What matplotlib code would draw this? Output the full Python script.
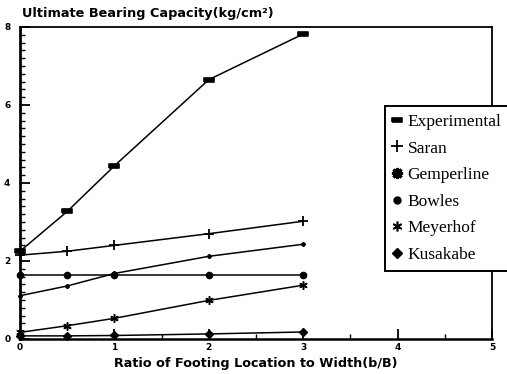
import numpy as np
import matplotlib
matplotlib.use("Agg")
import matplotlib.pyplot as plt
from matplotlib.lines import Line2D
from matplotlib.ticker import MultipleLocator

# ratio b/B
x_vals = [0, 0.5, 1, 2, 3]

experimental = [2.25, 3.27, 4.44, 6.65, 7.82]
saran = [2.15, 2.25, 2.40, 2.70, 3.02]
gemperline = [1.11, 1.36, 1.68, 2.12, 2.43]
bowles = [1.65, 1.65, 1.65, 1.65, 1.65]
meyerhof = [0.17, 0.34, 0.53, 0.99, 1.38]
kusakabe = [0.08, 0.08, 0.09, 0.13, 0.18]

series_names = ["Experimental", "Saran", "Gemperline", "Bowles", "Meyerhof", "Kusakabe"]
series_vals = [experimental, saran, gemperline, bowles, meyerhof, kusakabe]

x_ticks = [0, 1, 2, 3, 4, 5]
y_ticks = [0, 2, 4, 6, 8]

# flat bar marker for the experimental points
bar_marker = [(-1, -0.45), (1, -0.45), (1, 0.45), (-1, 0.45), (-1, -0.45)]
markers = [bar_marker, "+", (8, 2, 0), "o", (6, 2, 0), "D"]
msizes = [7, 7, 3, 4.5, 6, 4.5]
mews = [1.2, 1.3, 1.0, 1.0, 1.1, 1.0]
leg_sizes = [7, 8, 8, 5, 7, 5]
leg_mews = [1.2, 1.3, 2.2, 1.0, 1.2, 1.0]

fig = plt.figure(figsize=(5.07, 3.74), dpi=100)
ax = fig.add_axes([20 / 507, 35 / 374, 472 / 507, 312 / 374])

for vals, mk, ms, mw in zip(series_vals, markers, msizes, mews):
    ax.plot(x_vals, vals, color="black", lw=1.1, marker=mk, ms=ms,
            mew=mw, mfc="black", mec="black", clip_on=False)

ax.set_xlim(0, 5)
ax.set_ylim(0, 8)
ax.set_xticks(x_ticks)
ax.set_yticks(y_ticks)
ax.xaxis.set_minor_locator(MultipleLocator(0.5))
ax.yaxis.set_minor_locator(MultipleLocator(0.2))
ax.tick_params(which="major", direction="in", length=7, width=1.3,
               labelsize=6.5, pad=3)
ax.tick_params(which="minor", direction="in", length=3.5, width=1.0)
ax.tick_params(axis="y", pad=7)
for lab in ax.get_xticklabels() + ax.get_yticklabels():
    lab.set_fontweight("heavy")
for sp in ax.spines.values():
    sp.set_linewidth(1.3)
ax.spines["left"].set_linewidth(2)
ax.spines["bottom"].set_linewidth(1.8)

fig.text(22 / 507, 1 - 13 / 374, "Ultimate Bearing Capacity(kg/cm\u00b2)",
         fontsize=9.3, fontweight="bold", ha="left", va="center",
         family="DejaVu Sans")
fig.text(256 / 507, 1 - 364 / 374, "Ratio of Footing Location to Width(b/B)",
         fontsize=9.2, fontweight="bold", ha="center", va="center",
         family="DejaVu Sans")

handles = [Line2D([], [], ls="none", color="black", marker=mk, ms=ms,
                  mew=mw, mfc="black", mec="black")
           for mk, ms, mw in zip(markers, leg_sizes, leg_mews)]
leg = fig.legend(handles, series_names, loc="upper left",
                 bbox_to_anchor=(385 / 507, 1 - 106 / 374),
                 prop={"family": "Liberation Serif", "size": 12.5},
                 frameon=True, fancybox=False, handlelength=0.5,
                 handletextpad=0.35, labelspacing=0.6, borderpad=0.45,
                 borderaxespad=0)
leg.get_frame().set_edgecolor("black")
leg.get_frame().set_linewidth(1.4)
leg.get_frame().set_alpha(1)

fig.savefig("out.png", dpi=100)
